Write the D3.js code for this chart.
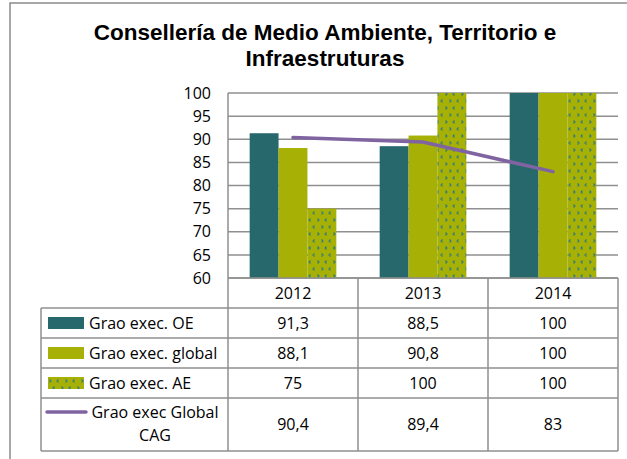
<!DOCTYPE html>
<html>
<head>
<meta charset="utf-8">
<script src="https://cdn.jsdelivr.net/npm/d3@7"></script>
<style>
  body { margin: 0; background: #fff; }
  svg { display: block; }
</style>
</head>
<body>
<div id="container"></div>
<script>
// Chart data
const years = ["2012", "2013", "2014"];
const seriesNames = ["Grao exec. OE", "Grao exec. global", "Grao exec. AE", "Grao exec Global CAG"];
const valuesOE = [91.3, 88.5, 100];
const valuesGlobal = [88.1, 90.8, 100];
const valuesAE = [75, 100, 100];
const valuesCAG = [90.4, 89.4, 83];
const yTicks = [60, 65, 70, 75, 80, 85, 90, 95, 100];
const titleLines = ["Consellería de Medio Ambiente, Territorio e", "Infraestruturas"];

const W = 627, H = 459;
const COLOR_OE = "#26686c";
const COLOR_GLOBAL = "#a6b005";
const COLOR_CAG = "#8064a2";
const GRID = "#8f8f8f";
const FONT = "'Open Sans', sans-serif";
const FONT_SIZE = "16px";

const plot = { left: 228, right: 618, top: 93, bottom: 278 };
const rowLines = [308, 338, 368, 398, 451];
const tableLeft = 41;

const svg = d3.select("#container")
    .append("svg")
    .attr("width", W)
    .attr("height", H);

// pattern for AE bars
const defs = svg.append("defs");
const pat = defs.append("pattern")
    .attr("id", "chev")
    .attr("patternUnits", "userSpaceOnUse")
    .attr("width", 16)
    .attr("height", 14);
pat.append("rect").attr("width", 16).attr("height", 14).attr("fill", COLOR_GLOBAL);
pat.append("path")
    .attr("d", "M1.5,1.5 L3,3 L1.5,4.5 M10.5,1.5 L9,3 L10.5,4.5 M6.5,8.5 L5,10 L6.5,11.5 M13.5,8.5 L15,10 L13.5,11.5")
    .attr("fill", "none")
    .attr("stroke", "#2f7a80")
    .attr("stroke-width", 1.1);

// outer frame
svg.append("path")
    .attr("d", `M10,${H} L10,3 L${W},3`)
    .attr("fill", "none")
    .attr("stroke", "#8a8a8a")
    .attr("stroke-width", 1.5);

// title
svg.append("text")
    .attr("x", 325)
    .attr("text-anchor", "middle")
    .attr("font-family", "Liberation Sans")
    .attr("font-weight", "bold")
    .attr("font-size", 22.5)
    .selectAll("tspan")
    .data(titleLines)
    .join("tspan")
    .attr("x", 325)
    .attr("y", (d, i) => 40 + i * 26)
    .text(d => d);

// scales
const x = d3.scaleBand()
    .domain(years)
    .range([plot.left, plot.right])
    .paddingInner(0)
    .paddingOuter(0);

const x1 = d3.scaleBand()
    .domain(["oe", "global", "ae"])
    .range([0, x.bandwidth()])
    .paddingInner(0)
    .paddingOuter(0.75);

const y = d3.scaleLinear()
    .domain([60, 100])
    .range([plot.bottom, plot.top]);

// gridlines
svg.append("g")
    .selectAll("line")
    .data(yTicks)
    .join("line")
    .attr("x1", plot.left)
    .attr("x2", plot.right)
    .attr("y1", d => y(d))
    .attr("y2", d => y(d))
    .attr("stroke", GRID)
    .attr("stroke-width", 1.5);

// y axis
const yAxis = svg.append("g")
    .attr("transform", `translate(${plot.left},0)`)
    .call(d3.axisLeft(y).tickValues(yTicks).tickSize(0).tickPadding(17));
yAxis.select(".domain").remove();
yAxis.selectAll("text")
    .style("font-family", FONT)
    .style("font-size", FONT_SIZE)
    .attr("fill", "#000");

// bars
const barSeries = [
    { key: "oe", values: valuesOE, fill: COLOR_OE },
    { key: "global", values: valuesGlobal, fill: COLOR_GLOBAL },
    { key: "ae", values: valuesAE, fill: "url(#chev)" }
];
barSeries.forEach(s => {
    svg.append("g")
        .selectAll("rect")
        .data(years)
        .join("rect")
        .attr("x", d => x(d) + x1(s.key))
        .attr("y", (d, i) => y(s.values[i]))
        .attr("width", x1.bandwidth())
        .attr("height", (d, i) => y(60) - y(s.values[i]))
        .attr("fill", s.fill);
});

// CAG line
svg.append("path")
    .datum(valuesCAG)
    .attr("fill", "none")
    .attr("stroke", COLOR_CAG)
    .attr("stroke-width", 3.5)
    .attr("stroke-linecap", "round")
    .attr("d", d3.line()
        .x((d, i) => x(years[i]) + x.bandwidth() / 2)
        .y(d => y(d)));

// data table lines
const tbl = svg.append("g")
    .attr("stroke", GRID)
    .attr("stroke-width", 1.5);
tbl.selectAll("line.h")
    .data(rowLines)
    .join("line")
    .attr("x1", tableLeft)
    .attr("x2", plot.right)
    .attr("y1", d => d)
    .attr("y2", d => d);
tbl.append("line")
    .attr("x1", plot.left).attr("x2", plot.right)
    .attr("y1", plot.bottom).attr("y2", plot.bottom);
tbl.append("line")
    .attr("x1", tableLeft).attr("x2", tableLeft)
    .attr("y1", rowLines[0]).attr("y2", rowLines[rowLines.length - 1]);
tbl.append("line")
    .attr("x1", plot.left).attr("x2", plot.left)
    .attr("y1", plot.top).attr("y2", rowLines[rowLines.length - 1]);
tbl.selectAll("line.v")
    .data(years)
    .join("line")
    .attr("x1", d => x(d) + x.bandwidth())
    .attr("x2", d => x(d) + x.bandwidth())
    .attr("y1", plot.bottom)
    .attr("y2", rowLines[rowLines.length - 1]);

// year header
svg.append("g")
    .selectAll("text")
    .data(years)
    .join("text")
    .attr("x", d => x(d) + x.bandwidth() / 2)
    .attr("y", 299)
    .attr("text-anchor", "middle")
    .style("font-family", FONT)
    .style("font-size", FONT_SIZE)
    .text(d => d);

// table values
const tableRows = [valuesOE, valuesGlobal, valuesAE, valuesCAG];
const rowCenters = [329, 359, 389, 430];
tableRows.forEach((vals, r) => {
    svg.append("g")
        .selectAll("text")
        .data(vals)
        .join("text")
        .attr("x", (d, i) => x(years[i]) + x.bandwidth() / 2)
        .attr("y", rowCenters[r])
        .attr("text-anchor", "middle")
        .style("font-family", FONT)
        .style("font-size", FONT_SIZE)
        .text(d => String(d).replace(".", ","));
});

// legend keys
const keyFills = [COLOR_OE, COLOR_GLOBAL, "url(#chev)"];
keyFills.forEach((f, r) => {
    svg.append("rect")
        .attr("x", 48)
        .attr("y", rowLines[r] + 9)
        .attr("width", 36)
        .attr("height", 12)
        .attr("fill", f);
});
svg.append("line")
    .attr("x1", 47).attr("x2", 86)
    .attr("y1", 412).attr("y2", 412)
    .attr("stroke", COLOR_CAG)
    .attr("stroke-width", 3.5)
    .attr("stroke-linecap", "round");

// legend labels
seriesNames.slice(0, 3).forEach((name, r) => {
    svg.append("text")
        .attr("x", 89)
        .attr("y", rowCenters[r])
        .style("font-family", FONT)
        .style("font-size", FONT_SIZE)
        .text(name);
});
const cagLines = ["Grao exec Global", "CAG"];
svg.append("g")
    .selectAll("text")
    .data(cagLines)
    .join("text")
    .attr("x", 155)
    .attr("y", (d, i) => 418 + i * 23)
    .attr("text-anchor", "middle")
    .style("font-family", FONT)
    .style("font-size", FONT_SIZE)
    .text(d => d);
</script>
</body>
</html>
